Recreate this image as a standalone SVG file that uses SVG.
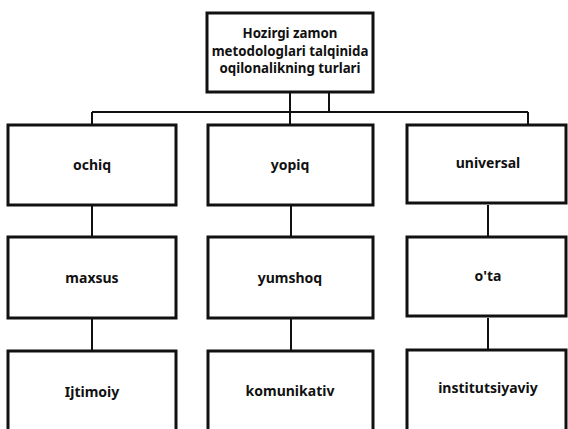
<svg xmlns="http://www.w3.org/2000/svg" width="568" height="429" viewBox="0 0 568 429">
<style>
.box{fill:#fff;stroke:#111;stroke-width:3}
.lbl{font-family:"Noto Sans","DejaVu Sans",sans-serif;font-weight:bold;font-size:14px;fill:#111;text-anchor:middle}
.top{font-size:13.3px}
.conn{stroke:#111;stroke-width:2;fill:none}
</style>
<rect width="568" height="429" fill="#fff"/>
<g id="connectors">
<path class="conn" d="M290 92V125M329 92V112M92 112H528M92 112V125M528 112V125"/>
<path class="conn" d="M92 205V237M92 318V351M291 205V237M291 318V351M488 205V237M488 318V351"/>
</g>
<g id="root">
<rect class="box" x="207" y="13" width="166" height="79"/>
<text class="lbl top" x="290" y="38">Hozirgi zamon</text>
<text class="lbl top" x="290" y="56">metodologlari talqinida</text>
<text class="lbl top" x="290" y="73">oqilonalikning turlari</text>
</g>
<g id="ochiq"><rect class="box" x="8" y="125" width="168" height="80"/><text class="lbl" x="92" y="170">ochiq</text></g>
<g id="yopiq"><rect class="box" x="208" y="125" width="165" height="80"/><text class="lbl" x="290" y="170">yopiq</text></g>
<g id="universal"><rect class="box" x="407" y="125" width="159" height="78"/><text class="lbl" x="488" y="168">universal</text></g>
<g id="maxsus"><rect class="box" x="8" y="237" width="168" height="81"/><text class="lbl" x="92" y="283">maxsus</text></g>
<g id="yumshoq"><rect class="box" x="208" y="237" width="165" height="81"/><text class="lbl" x="290" y="283">yumshoq</text></g>
<g id="ota"><rect class="box" x="407" y="237" width="159" height="79"/><text class="lbl" x="488" y="281">o'ta</text></g>
<g id="ijtimoiy"><rect class="box" x="8" y="351" width="168" height="90"/><text class="lbl" x="92" y="397">Ijtimoiy</text></g>
<g id="komunikativ"><rect class="box" x="208" y="351" width="165" height="90"/><text class="lbl" x="290" y="396">komunikativ</text></g>
<g id="institutsiyaviy"><rect class="box" x="407" y="350" width="159" height="90"/><text class="lbl" x="488" y="393">institutsiyaviy</text></g>
</svg>
